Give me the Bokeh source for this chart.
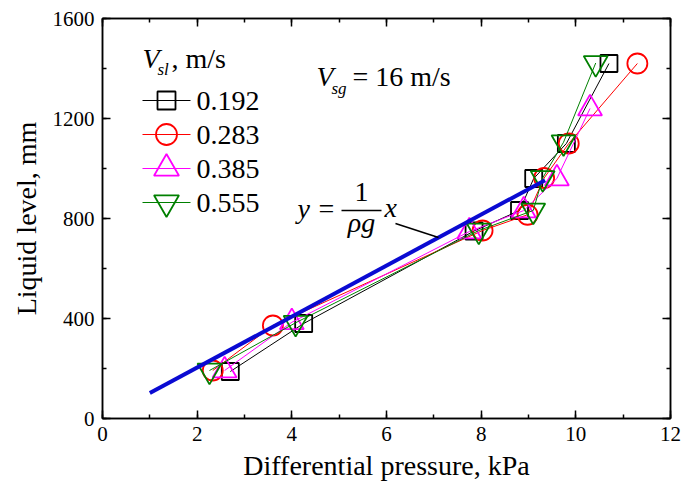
from bokeh.plotting import figure
from bokeh.models import LinearAxis, SingleIntervalTicker, Range1d, CustomLabelingPolicy
from bokeh.core.properties import value
from bokeh.embed import file_html
from bokeh.resources import INLINE

# Differential pressure (kPa) vs liquid level (mm), one series per V_sl (m/s)
dp_0192 = [2.70, 4.25, 7.85, 8.81, 9.11, 9.80, 10.70]
lv_0192 = [188, 380, 750, 832, 960, 1100, 1420]
dp_0283 = [2.33, 3.60, 8.03, 8.98, 9.33, 9.85, 11.30]
lv_0283 = [192, 372, 752, 815, 962, 1100, 1420]
dp_0385 = [2.58, 4.00, 7.75, 8.90, 9.60, 10.30]
lv_0385 = [192, 385, 748, 832, 960, 1240]
dp_0555 = [2.26, 4.08, 7.95, 9.10, 9.30, 9.74, 10.42]
lv_0555 = [192, 383, 752, 832, 962, 1105, 1422]

series_labels = ["0.192", "0.283", "0.385", "0.555"]

# hydrostatic reference line y = x / (rho g), x in kPa, y in mm
rho = 1000.0
g = 9.81
ref_dp = [1.0, 9.35]
ref_lv = [x * 1000.0 / (rho * g) * 1000.0 for x in ref_dp]

X_RANGE = (0, 12)
Y_RANGE = (0, 1600)
FRAME_L, FRAME_R, FRAME_T, FRAME_B = 102, 670, 18, 418
W, H = 688, 494

SERIF = "Liberation Serif"


def at(px, py):
    """Convert a canvas pixel position to data coordinates."""
    x = X_RANGE[0] + (px - FRAME_L) / (FRAME_R - FRAME_L) * (X_RANGE[1] - X_RANGE[0])
    y = Y_RANGE[0] + (FRAME_B - py) / (FRAME_B - FRAME_T) * (Y_RANGE[1] - Y_RANGE[0])
    return x, y


p = figure(width=W, height=H, x_range=Range1d(*X_RANGE), y_range=Range1d(*Y_RANGE),
           output_backend="svg", toolbar_location=None,
           min_border_left=FRAME_L, min_border_right=W - FRAME_R,
           min_border_top=FRAME_T, min_border_bottom=H - FRAME_B,
           x_axis_label="Differential pressure, kPa", y_axis_label="Liquid level, mm")
p.grid.visible = False
p.outline_line_color = "black"
p.outline_line_width = 1.5
p.background_fill_color = "white"
p.border_fill_color = "white"

xt = SingleIntervalTicker(interval=2, num_minor_ticks=2)
yt = SingleIntervalTicker(interval=400, num_minor_ticks=2)
bottom_ax = p.below[0]
left_ax = p.left[0]
bottom_ax.ticker = xt
left_ax.ticker = yt

# mirrored tick marks on the top and right edges, without labels
no_labels = CustomLabelingPolicy(code="""
    for (const i of indices) indices.unset(i)
    return indices
""")
top_ax = LinearAxis(ticker=xt, major_label_policy=no_labels)
right_ax = LinearAxis(ticker=yt, major_label_policy=no_labels)
p.add_layout(top_ax, "above")
p.add_layout(right_ax, "right")

for ax in [bottom_ax, left_ax, top_ax, right_ax]:
    ax.major_tick_in = 8
    ax.major_tick_out = 0
    ax.minor_tick_in = 4
    ax.minor_tick_out = 0
    ax.axis_line_width = 1.5
    ax.major_tick_line_width = 1.5
    ax.minor_tick_line_width = 1.5
    ax.axis_line_color = "black"
    ax.major_tick_line_color = "black"
    ax.minor_tick_line_color = "black"
    ax.major_label_text_font = SERIF
    ax.major_label_text_font_size = "21px"
    ax.major_label_text_color = "black"
    ax.axis_label_text_font = SERIF
    ax.axis_label_text_font_size = "28px"
    ax.axis_label_text_font_style = "normal"
    ax.axis_label_text_color = "black"

for ax in [top_ax, right_ax]:
    ax.major_label_text_font_size = "1px"
    ax.major_label_standoff = 0

bottom_ax.major_label_standoff = 8
bottom_ax.axis_label_standoff = 6
left_ax.major_label_standoff = 8
left_ax.axis_label_standoff = 8

styles = [
    dict(marker="square", color="black", size=17),
    dict(marker="circle", color="#ff0000", size=20),
    dict(marker="triangle", color="#ff00ff", size=24),
    dict(marker="inverted_triangle", color="#008000", size=24),
]
data = [(dp_0192, lv_0192), (dp_0283, lv_0283), (dp_0385, lv_0385), (dp_0555, lv_0555)]

for (xs, ys), st in zip(data, styles):
    p.line(xs, ys, line_color=st["color"], line_width=1)
    p.scatter(xs, ys, marker=st["marker"], size=st["size"], fill_color=None,
              line_color=st["color"], line_width=1.8)

# reference line and its leader
p.line(ref_dp, ref_lv, line_color="#0a0ad2", line_width=4)
lx0, ly0 = at(395, 223)
lx1, ly1 = at(438, 237)
p.line([lx0, lx1], [ly0, ly1], line_color="black", line_width=1.5)


def put(px, py, text, size="28px", style="normal", align="left"):
    """Place a text whose vertical middle sits at canvas pixel (px, py)."""
    x, y = at(px, py)
    p.text(x=[x], y=[y], text=[text], text_font=value(SERIF), text_font_size=value(size),
           text_font_style=style, text_color="black",
           text_baseline="middle", text_align=align)


# legend
legend_rows = [100, 134, 168, 202]
for lab, st, ry in zip(series_labels, styles, legend_rows):
    a0 = at(142, ry)
    a1 = at(190, ry)
    p.line([a0[0], a1[0]], [a0[1], a1[1]], line_color=st["color"], line_width=1)
    c = at(166, ry)
    p.scatter([c[0]], [c[1]], marker=st["marker"], size=st["size"] + 1, fill_color=None,
              line_color=st["color"], line_width=1.8)
    put(196, ry, lab)

# legend title
put(142, 58, "V", style="italic")
put(157, 69, "sl", size="17px", style="italic")
put(171, 58, ", m/s")

# gas velocity note
put(316, 76, "V", style="italic")
put(331, 88, "sg", size="17px", style="italic")
put(352, 76, "= 16 m/s")

# formula y = x / (rho g)
put(297, 208, "y", style="italic")
put(318, 208, "=")
put(361, 191, "1", align="center")
b0 = at(341, 210)
b1 = at(381, 210)
p.line([b0[0], b1[0]], [b0[1], b1[1]], line_color="black", line_width=1.5)
put(361, 222, "ρg", style="italic", align="center")
put(384, 207, "x", style="italic")

open("out.html", "w").write(file_html(p, INLINE))
